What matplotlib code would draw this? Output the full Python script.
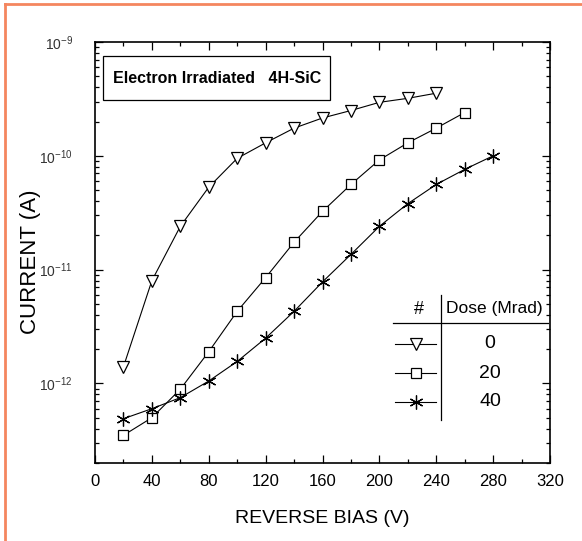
import matplotlib.pyplot as plt
import numpy as np
from matplotlib.ticker import MultipleLocator, LogLocator, NullFormatter
from matplotlib.lines import Line2D
from matplotlib.patches import Rectangle

plt.rcParams['font.family'] = ['Liberation Sans', 'DejaVu Sans']
plt.rcParams['mathtext.fontset'] = 'custom'
plt.rcParams['mathtext.rm'] = 'Liberation Sans'

bias = [20, 40, 60, 80, 100, 120, 140, 160, 180, 200, 220, 240, 260, 280]
dose_0 = [1.4e-12, 8e-12, 2.4e-11, 5.3e-11, 9.5e-11, 1.3e-10, 1.75e-10, 2.15e-10,
          2.5e-10, 2.95e-10, 3.2e-10, 3.55e-10]
dose_20 = [3.5e-13, 5.0e-13, 8.9e-13, 1.9e-12, 4.3e-12, 8.5e-12, 1.74e-11, 3.25e-11,
           5.6e-11, 9.2e-11, 1.3e-10, 1.75e-10, 2.4e-10]
dose_40 = [4.9e-13, 6.0e-13, 7.5e-13, 1.05e-12, 1.56e-12, 2.5e-12, 4.3e-12, 7.8e-12,
           1.36e-11, 2.4e-11, 3.8e-11, 5.6e-11, 7.6e-11, 1.0e-10]
doses = ['0', '20', '40']
y_ticks = [1e-12, 1e-11, 1e-10, 1e-9]

W, H = 582, 541
fig = plt.figure(figsize=(W / 100, H / 100), dpi=100)
ax = fig.add_axes([95 / W, (H - 463) / H, 455 / W, 421 / H])

asterisk = (6, 2, 0)
styles = [dict(marker='v', ms=8), dict(marker='s', ms=6.5), dict(marker=asterisk, ms=10)]
series = [dose_0, dose_20, dose_40]
for vals, st in zip(series, styles):
    ax.plot(bias[:len(vals)], vals, color='black', lw=0.8, mfc='white', mec='black',
            mew=0.9, **st)

ax.set_yscale('log')
ax.set_xlim(0, 320)
ax.set_ylim(2e-13, 1e-9)
ax.xaxis.set_major_locator(MultipleLocator(40))
ax.xaxis.set_minor_locator(MultipleLocator(20))
ax.yaxis.set_minor_locator(LogLocator(base=10, subs=np.arange(2, 10), numticks=20))
ax.yaxis.set_minor_formatter(NullFormatter())
ax.set_yticks(y_ticks)
ax.set_yticklabels(['$10^{%d}$' % int(np.log10(v)) for v in y_ticks])
ax.tick_params(which='both', direction='in', top=True, right=True, width=0.9)
ax.tick_params(which='major', length=6)
ax.tick_params(which='minor', length=3)
ax.tick_params(axis='x', labelsize=12, pad=8)
ax.tick_params(axis='y', labelsize=10, pad=16)
for lab in ax.get_yticklabels():
    lab.set_color('#333333')
for s in ax.spines.values():
    s.set_linewidth(1.2)

ax.set_xlabel('REVERSE BIAS (V)', fontsize=14)
ax.set_ylabel('CURRENT (A)', fontsize=16)
ax.xaxis.set_label_coords(0.5, -0.112)
ax.yaxis.set_label_coords(-0.118, 0.477)


def ax_xy(px, py):
    return (px - 95) / 455, (463 - py) / 421


t = ax.transAxes

# title box
bx0, by0 = ax_xy(103, 100)
bx1, by1 = ax_xy(330, 56)
ax.add_patch(Rectangle((bx0, by0), bx1 - bx0, by1 - by0, transform=t, fc='white',
                       ec='black', lw=0.9, zorder=3))
tx0, ty0 = ax_xy(113, 78)
ax.text(tx0, ty0, 'Electron Irradiated   4H-SiC', transform=t, fontsize=11.5,
        fontweight='bold', va='center', ha='left', zorder=4)

# legend as a small table
x0, y0 = ax_xy(393, 323)
x1, _ = ax_xy(548, 323)
ax.plot([x0, x1], [y0, y0], transform=t, color='black', lw=0.9)
vx, vy0 = ax_xy(441, 295)
_, vy1 = ax_xy(441, 420)
ax.plot([vx, vx], [vy0, vy1], transform=t, color='black', lw=0.9)
hx, hy = ax_xy(419, 309)
ax.text(hx, hy, '#', transform=t, ha='center', va='center', fontsize=13)
dx, _ = ax_xy(494, 309)
ax.text(dx, hy, 'Dose (Mrad)', transform=t, ha='center', va='center', fontsize=12.5)
for i, (d, st) in enumerate(zip(doses, styles)):
    py = 344 + i * 29
    lx0, ly = ax_xy(395, py)
    lx1, _ = ax_xy(436, py)
    mx, _ = ax_xy(416, py)
    ax.plot([lx0, lx1], [ly, ly], transform=t, color='black', lw=0.8)
    ax.plot([mx], [ly], transform=t, color='black', mfc='white', mec='black', mew=0.9, **st)
    tx, _ = ax_xy(490, py)
    ax.text(tx, ly, d, transform=t, ha='center', va='center', fontsize=14)

# orange frame on top and left
fig.add_artist(Line2D([5 / W, 5 / W], [0, 1 - 4 / H], transform=fig.transFigure,
                      color='#f4865f', lw=2))
fig.add_artist(Line2D([5 / W, 1], [1 - 4 / H, 1 - 4 / H], transform=fig.transFigure,
                      color='#f4865f', lw=2))

fig.savefig('out.png', dpi=100)
